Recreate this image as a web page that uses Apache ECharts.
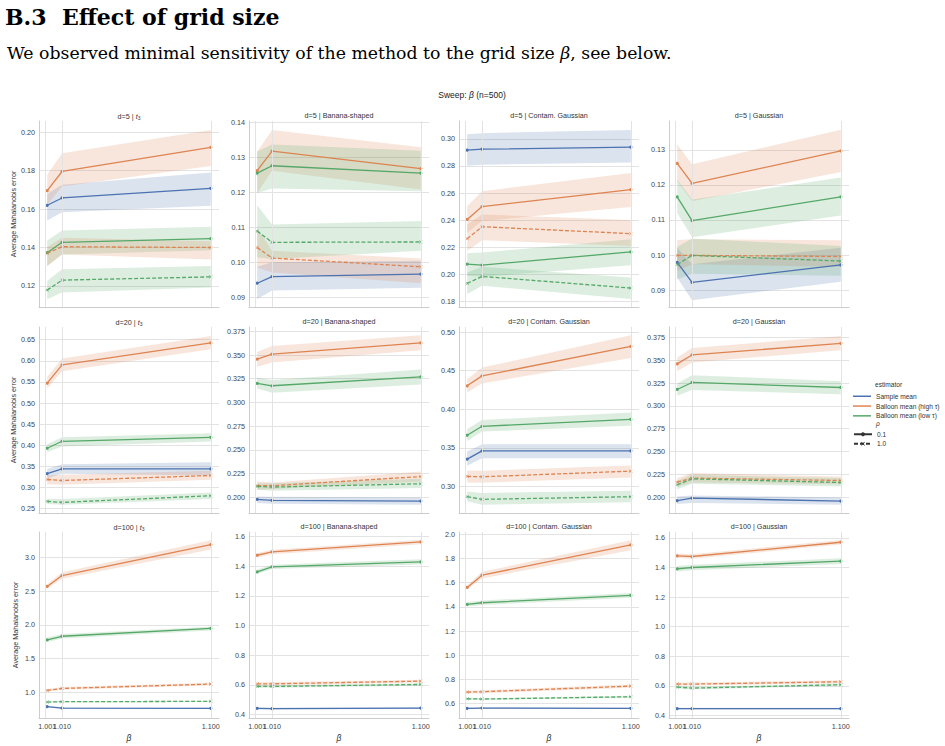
<!DOCTYPE html>
<html>
<head>
<meta charset="utf-8">
<title>Effect of grid size</title>
<script src="https://cdn.jsdelivr.net/npm/echarts@6.0.0/dist/echarts.min.js"></script>
<style>
  html, body { margin: 0; padding: 0; background: #fff; }
  #chart { width: 945px; height: 746px; }
</style>
</head>
<body>
<div id="chart"></div>
<script>
// x values (grid size beta) and their tick labels
const betas = [1.001, 1.010, 1.100];
const betaLabels = ['1.001', '1.010', '1.100'];

const estimators = ['Sample mean', 'Balloon mean (high τ)', 'Balloon mean (low τ)'];
const rhoLabels = ['0.1', '1.0'];
const dims = ['5', '20', '100'];
const dists = ['t3', 'Banana-shaped', 'Contam. Gaussian', 'Gaussian'];
// lines in every panel: [estimator index, rho index]
const lineKeys = [[0, 0], [1, 0], [2, 0], [1, 1], [2, 1]];

// y tick labels per panel (t3, banana, contam, gaussian)
const yTicksD5 = [
  ['0.12', '0.14', '0.16', '0.18', '0.20'],
  ['0.09', '0.10', '0.11', '0.12', '0.13', '0.14'],
  ['0.18', '0.20', '0.22', '0.24', '0.26', '0.28', '0.30'],
  ['0.09', '0.10', '0.11', '0.12', '0.13']
];
const yTicksD20 = [
  ['0.25', '0.30', '0.35', '0.40', '0.45', '0.50', '0.55', '0.60', '0.65'],
  ['0.200', '0.225', '0.250', '0.275', '0.300', '0.325', '0.350', '0.375'],
  ['0.30', '0.35', '0.40', '0.45', '0.50'],
  ['0.200', '0.225', '0.250', '0.275', '0.300', '0.325', '0.350', '0.375']
];
const yTicksD100 = [
  ['1.0', '1.5', '2.0', '2.5', '3.0'],
  ['0.4', '0.6', '0.8', '1.0', '1.2', '1.4', '1.6'],
  ['0.6', '0.8', '1.0', '1.2', '1.4', '1.6', '1.8', '2.0'],
  ['0.4', '0.6', '0.8', '1.0', '1.2', '1.4', '1.6']
];
const yLimD5 = [[0.109, 0.2059], [0.0872, 0.1404], [0.1758, 0.3132], [0.0852, 0.1382]];
const yLimD20 = [[0.2398, 0.6799], [0.1836, 0.3795], [0.2656, 0.5065], [0.1825, 0.3867]];
const yLimD100 = [[0.6148, 3.38], [0.3777, 1.629], [0.482, 2.019], [0.382, 1.64]];

// mean / lower / upper per panel and line (order of lineKeys)
const meanD5 = [
  [[0.1620, 0.1658, 0.1708], [0.1696, 0.1796, 0.1922], [0.1373, 0.1427, 0.1446], [0.1370, 0.1404, 0.1400], [0.1178, 0.1230, 0.1247]],
  [[0.0940, 0.0959, 0.0966], [0.1262, 0.1318, 0.1268], [0.1255, 0.1276, 0.1255], [0.1042, 0.1012, 0.0987], [0.1089, 0.1057, 0.1058]],
  [[0.2917, 0.2924, 0.2939], [0.2405, 0.2500, 0.2625], [0.2074, 0.2067, 0.2165], [0.2263, 0.2351, 0.2300], [0.1932, 0.1984, 0.1898]],
  [[0.0979, 0.0922, 0.0972], [0.1261, 0.1204, 0.1297], [0.1166, 0.1098, 0.1166], [0.0999, 0.0999, 0.0996], [0.0973, 0.0999, 0.0983]]
];
const loD5 = [
  [[0.1540, 0.1584, 0.1618], [0.1623, 0.1718, 0.1825], [0.1304, 0.1364, 0.1385], [0.1304, 0.1364, 0.1338], [0.1131, 0.1166, 0.1192]],
  [[0.0895, 0.0919, 0.0927], [0.1198, 0.1262, 0.1208], [0.1198, 0.1211, 0.1203], [0.0985, 0.0971, 0.0940], [0.1014, 0.1009, 0.1033]],
  [[0.2802, 0.2809, 0.2826], [0.2307, 0.2393, 0.2496], [0.1989, 0.1981, 0.2067], [0.2172, 0.2251, 0.2209], [0.1854, 0.1915, 0.1817]],
  [[0.0936, 0.0871, 0.0924], [0.1210, 0.1153, 0.1237], [0.1120, 0.1051, 0.1113], [0.0955, 0.0974, 0.0966], [0.0931, 0.0947, 0.0941]]
];
const hiD5 = [
  [[0.1679, 0.1727, 0.1791], [0.1779, 0.1891, 0.2012], [0.1437, 0.1489, 0.1508], [0.1402, 0.1451, 0.1433], [0.1226, 0.1287, 0.1304]],
  [[0.0987, 0.1000, 0.1004], [0.1317, 0.1378, 0.1329], [0.1317, 0.1337, 0.1319], [0.1099, 0.1033, 0.1011], [0.1163, 0.1108, 0.1118]],
  [[0.3034, 0.3042, 0.3066], [0.2503, 0.2613, 0.2748], [0.2155, 0.2160, 0.2258], [0.2368, 0.2442, 0.2400], [0.2013, 0.2055, 0.1976]],
  [[0.1021, 0.0974, 0.1021], [0.1316, 0.1259, 0.1357], [0.1215, 0.1158, 0.1221], [0.1043, 0.1045, 0.1042], [0.1023, 0.1047, 0.1026]]
];

const meanD20 = [
  [[0.3332, 0.3442, 0.3442], [0.5470, 0.5903, 0.6421], [0.3930, 0.4095, 0.4189], [0.3191, 0.3167, 0.3285], [0.2673, 0.2649, 0.2806]],
  [[0.1979, 0.1969, 0.1962], [0.3456, 0.3509, 0.3628], [0.3201, 0.3176, 0.3270], [0.2123, 0.2123, 0.2220], [0.2116, 0.2109, 0.2144]],
  [[0.3353, 0.3461, 0.3461], [0.4303, 0.4432, 0.4815], [0.3663, 0.3779, 0.3869], [0.3130, 0.3125, 0.3198], [0.2867, 0.2833, 0.2867]],
  [[0.1960, 0.1989, 0.1956], [0.3462, 0.3560, 0.3688], [0.3181, 0.3258, 0.3203], [0.2164, 0.2208, 0.2182], [0.2135, 0.2200, 0.2160]]
];
const loD20 = [
  [[0.3222, 0.3324, 0.3285], [0.5344, 0.5753, 0.6272], [0.3835, 0.3969, 0.4087], [0.3081, 0.3065, 0.3183], [0.2609, 0.2594, 0.2727]],
  [[0.1941, 0.1934, 0.1923], [0.3376, 0.3421, 0.3550], [0.3148, 0.3103, 0.3190], [0.2080, 0.2088, 0.2168], [0.2080, 0.2070, 0.2098]],
  [[0.3267, 0.3366, 0.3366], [0.4217, 0.4334, 0.4665], [0.3590, 0.3710, 0.3787], [0.3052, 0.3048, 0.3117], [0.2807, 0.2764, 0.2794]],
  [[0.1923, 0.1934, 0.1916], [0.3382, 0.3477, 0.3611], [0.3112, 0.3174, 0.3130], [0.2117, 0.2161, 0.2142], [0.2087, 0.2146, 0.2117]]
];
const hiD20 = [
  [[0.3442, 0.3552, 0.3599], [0.5620, 0.6052, 0.6586], [0.4024, 0.4189, 0.4283], [0.3285, 0.3301, 0.3395], [0.2735, 0.2727, 0.2884]],
  [[0.2010, 0.2007, 0.2000], [0.3533, 0.3596, 0.3708], [0.3260, 0.3236, 0.3348], [0.2168, 0.2158, 0.2273], [0.2150, 0.2150, 0.2196]],
  [[0.3452, 0.3547, 0.3547], [0.4389, 0.4540, 0.4957], [0.3744, 0.3860, 0.3959], [0.3207, 0.3203, 0.3271], [0.2936, 0.2915, 0.2945]],
  [[0.2007, 0.2018, 0.1996], [0.3531, 0.3637, 0.3768], [0.3247, 0.3338, 0.3272], [0.2208, 0.2263, 0.2226], [0.2179, 0.2244, 0.2208]]
];

const meanD100 = [
  [[0.783, 0.763, 0.758], [2.570, 2.733, 3.193], [1.775, 1.830, 1.948], [1.025, 1.054, 1.119], [0.852, 0.857, 0.862]],
  [[0.4425, 0.4402, 0.4447], [1.4726, 1.4950, 1.5620], [1.3610, 1.3944, 1.4280], [0.6078, 0.6078, 0.6257], [0.5900, 0.5900, 0.6034]],
  [[0.5616, 0.5644, 0.5616], [1.5608, 1.6624, 1.9122], [1.4208, 1.4345, 1.4949], [0.6960, 0.6990, 0.7455], [0.6412, 0.6385, 0.6577]],
  [[0.4450, 0.4450, 0.4450], [1.4787, 1.4742, 1.5708], [1.3910, 1.4000, 1.4427], [0.6113, 0.6113, 0.6270], [0.5910, 0.5843, 0.6068]]
];
const loD100 = [
  [[0.773, 0.753, 0.748], [2.536, 2.684, 3.119], [1.746, 1.795, 1.914], [1.005, 1.034, 1.099], [0.842, 0.847, 0.852]],
  [[0.4365, 0.4342, 0.4387], [1.4576, 1.4800, 1.5470], [1.3460, 1.3794, 1.4110], [0.5978, 0.5978, 0.6157], [0.5820, 0.5820, 0.5954]],
  [[0.5556, 0.5584, 0.5556], [1.5450, 1.6350, 1.8680], [1.4030, 1.4160, 1.4750], [0.6840, 0.6870, 0.7320], [0.6332, 0.6305, 0.6497]],
  [[0.4390, 0.4390, 0.4390], [1.4640, 1.4590, 1.5550], [1.3720, 1.3810, 1.4230], [0.6013, 0.6013, 0.6170], [0.5830, 0.5763, 0.5988]]
];
const hiD100 = [
  [[0.793, 0.773, 0.768], [2.605, 2.783, 3.257], [1.810, 1.864, 1.973], [1.045, 1.074, 1.139], [0.862, 0.867, 0.872]],
  [[0.4485, 0.4462, 0.4507], [1.4876, 1.5100, 1.5770], [1.3760, 1.4094, 1.4450], [0.6178, 0.6178, 0.6357], [0.5980, 0.5980, 0.6114]],
  [[0.5676, 0.5704, 0.5676], [1.5780, 1.6900, 1.9500], [1.4390, 1.4530, 1.5150], [0.7080, 0.7110, 0.7590], [0.6492, 0.6465, 0.6657]],
  [[0.4510, 0.4510, 0.4510], [1.4940, 1.4890, 1.5860], [1.4100, 1.4190, 1.4620], [0.6213, 0.6213, 0.6370], [0.5990, 0.5923, 0.6148]]
];

const meanRows = [meanD5, meanD20, meanD100];
const loRows = [loD5, loD20, loD100];
const hiRows = [hiD5, hiD20, hiD100];
const tickRows = [yTicksD5, yTicksD20, yTicksD100];
const limRows = [yLimD5, yLimD20, yLimD100];

const palette = ['#4c72b0', '#dd8452', '#55a868'];
const FONT = '"Liberation Sans", Arial, sans-serif';
const GRID_COLOR = '#e3e3e3';
const crossSymbol = 'path://M0,1L1,0L5,4L9,0L10,1L6,5L10,9L9,10L5,6L1,10L0,9L4,5Z';

const colLeft = [39, 249, 459, 669];
const rowTop = [121, 327, 532];
const panelW = 180;
const panelH = 186;
const xMin = 0.99605, xMax = 1.10495;

const grids = [], xAxes = [], yAxes = [], series = [];
const extraX = []; // second bottom axis per bottom panel, carries the 1.010 label (overlaps 1.001)
const headFont = { fontFamily: '"DejaVu Serif", serif', fontWeight: 'bold', fontSize: 22, color: '#000' };
const titles = [
  { text: 'B.3', left: 5, top: 6, padding: 0, textStyle: headFont },
  { text: 'Effect of grid size', left: 62, top: 6, padding: 0, textStyle: headFont },
  {
    text: 'We observed minimal sensitivity of the method to the grid size {b|β}, see below.',
    left: 7, top: 44, padding: 0,
    textStyle: {
      fontFamily: '"DejaVu Serif", serif', fontWeight: 'normal', fontSize: 17.3, color: '#000',
      rich: { b: { fontFamily: '"DejaVu Serif", serif', fontStyle: 'italic', fontSize: 17.3, color: '#000' } }
    }
  },
  {
    text: 'Sweep: {b|β} (n=500)', left: 472, top: 90, padding: 0, textAlign: 'center',
    textStyle: { fontFamily: FONT, fontWeight: 'normal', fontSize: 8.5, color: '#222',
      rich: { b: { fontFamily: FONT, fontStyle: 'italic', fontSize: 8.5, color: '#222' } } }
  },
  { text: 'estimator', left: 875, top: 381, padding: 0, textStyle: { fontFamily: FONT, fontWeight: 'normal', fontSize: 6.6, color: '#333' } },
  { text: 'ρ', left: 876, top: 420, padding: 0, textStyle: { fontFamily: FONT, fontWeight: 'normal', fontStyle: 'italic', fontSize: 6.6, color: '#333' } }
];

for (let r = 0; r < 3; r++) {
  for (let c = 0; c < 4; c++) {
    const i = r * 4 + c;
    const ticks = tickRows[r][c].map(Number);
    const decimals = tickRows[r][c][0].split('.')[1].length;
    const lim = limRows[r][c];
    const bottom = r === 2;

    grids.push({ left: colLeft[c], top: rowTop[r], width: panelW, height: panelH });

    const mainLabels = [betas[0], betas[2]];
    xAxes.push({
      type: 'value', gridIndex: i, position: 'bottom', min: xMin, max: xMax,
      name: bottom ? 'β' : '', nameLocation: 'middle', nameGap: 15,
      nameTextStyle: { fontFamily: FONT, fontStyle: 'italic', fontSize: 8.5, color: '#333' },
      axisLine: { show: true, lineStyle: { color: '#cccccc', width: 1 } },
      axisTick: { show: false, customValues: mainLabels },
      axisLabel: {
        show: bottom, customValues: mainLabels, margin: 5,
        fontFamily: FONT, fontSize: 7.2, color: '#444',
        formatter: v => betaLabels[betas.indexOf(v)]
      },
      splitLine: { show: false }
    });
    if (bottom) {
      extraX.push({
        type: 'value', gridIndex: i, position: 'bottom', min: xMin, max: xMax,
        axisLine: { show: false },
        axisTick: { show: false, customValues: [betas[1]] },
        axisLabel: {
          customValues: [betas[1]], margin: 5,
          fontFamily: FONT, fontSize: 7.2, color: '#444',
          formatter: v => betaLabels[betas.indexOf(v)]
        },
        splitLine: { show: false }
      });
    }

    yAxes.push({
      type: 'value', gridIndex: i, min: lim[0], max: lim[1],
      name: c === 0 ? 'Average Mahalanobis error' : '', nameLocation: 'middle', nameGap: 20, nameRotate: 90,
      nameTextStyle: { fontFamily: FONT, fontSize: 7.2, color: '#333' },
      axisLine: { show: true, lineStyle: { color: '#cccccc', width: 1 } },
      axisTick: { show: false, customValues: ticks },
      axisLabel: {
        customValues: ticks, margin: 4,
        fontFamily: FONT, fontSize: 7.2, color: '#444',
        formatter: v => v.toFixed(decimals)
      },
      splitLine: { show: true, lineStyle: { color: GRID_COLOR, width: 1 } }
    });

    const distText = c === 0 ? '{it|t}{sub|3}' : dists[c];
    titles.push({
      text: 'd=' + dims[r] + ' | ' + distText,
      left: colLeft[c] + panelW / 2, top: rowTop[r] - 9, padding: 0, textAlign: 'center',
      textStyle: {
        fontFamily: FONT, fontWeight: 'normal', fontSize: 7.2, color: '#333',
        rich: {
          it: { fontFamily: FONT, fontStyle: 'italic', fontSize: 7.2, color: '#333' },
          sub: { fontFamily: FONT, fontSize: 5, color: '#333', padding: [3, 0, 0, 0] }
        }
      }
    });

    // vertical grid lines at the beta values
    series.push({
      type: 'line', xAxisIndex: i, yAxisIndex: i, z: 0, silent: true,
      data: [[betas[0], lim[0]]], symbol: 'none',
      lineStyle: { opacity: 0 },
      markLine: {
        silent: true, symbol: 'none', animation: false,
        label: { show: false },
        lineStyle: { color: GRID_COLOR, width: 1, type: 'solid' },
        emphasis: { disabled: true },
        data: betas.map(b => ({ xAxis: b }))
      }
    });

    lineKeys.forEach(([e, rho], k) => {
      const mean = meanRows[r][c][k];
      const lo = loRows[r][c][k];
      const hi = hiRows[r][c][k];
      const color = palette[e];

      // confidence band
      series.push({
        type: 'custom', xAxisIndex: i, yAxisIndex: i, silent: true, clip: true, z: 1,
        data: [[betas[0], mean[0]]],
        renderItem: (params, api) => {
          const upper = betas.map((b, j) => api.coord([b, hi[j]]));
          const lower = betas.map((b, j) => api.coord([b, lo[j]])).reverse();
          return {
            type: 'polygon',
            shape: { points: upper.concat(lower) },
            style: { fill: color, opacity: 0.2 }
          };
        }
      });

      series.push({
        type: 'line', name: estimators[e], xAxisIndex: i, yAxisIndex: i, z: 3,
        data: betas.map((b, j) => [b, mean[j]]),
        symbol: rho === 0 ? 'circle' : crossSymbol,
        symbolSize: rho === 0 ? 3.2 : 3.5,
        showSymbol: true,
        itemStyle: { color: color },
        lineStyle: { color: color, width: 1.3, type: rho === 0 ? 'solid' : [4, 2] },
        emphasis: { disabled: true }
      });
    });
  }
}

// series only used for the rho legend entries
series.push({
  type: 'line', name: rhoLabels[0], xAxisIndex: 0, yAxisIndex: 0, data: [],
  symbol: 'circle', symbolSize: 4, itemStyle: { color: '#333' },
  lineStyle: { color: '#333', width: 1.3 }
});
series.push({
  type: 'line', name: rhoLabels[1], xAxisIndex: 0, yAxisIndex: 0, data: [],
  symbol: crossSymbol, symbolSize: 4, itemStyle: { color: '#333' },
  lineStyle: { color: '#333', width: 1.3, type: [4, 2] }
});

const chart = echarts.init(document.getElementById('chart'), null, { renderer: 'svg' });
chart.setOption({
  animation: false,
  backgroundColor: '#fff',
  title: titles,
  grid: grids,
  xAxis: xAxes.concat(extraX),
  yAxis: yAxes,
  legend: [
    {
      data: estimators, orient: 'vertical', left: 853, top: 392, padding: 0,
      icon: 'rect', itemWidth: 18, itemHeight: 1.5, itemGap: 1.3,
      selectedMode: false,
      textStyle: { fontFamily: FONT, fontSize: 6.6, color: '#333', lineHeight: 8.5 }
    },
    {
      data: rhoLabels, orient: 'vertical', left: 853, top: 430, padding: 0,
      itemWidth: 18, itemHeight: 5, itemGap: 1,
      selectedMode: false,
      textStyle: { fontFamily: FONT, fontSize: 6.6, color: '#333', lineHeight: 8.5 }
    }
  ],
  series: series
});
</script>
</body>
</html>
